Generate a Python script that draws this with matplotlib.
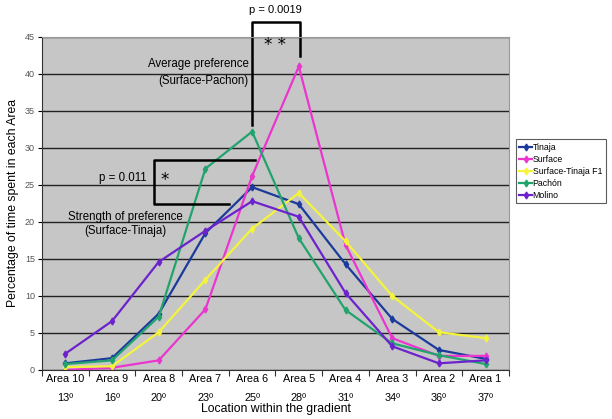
import numpy as np
import matplotlib.pyplot as plt

plt.rcParams['font.family'] = ['Liberation Sans', 'DejaVu Sans']

# data
areas = ['Area 10', 'Area 9', 'Area 8', 'Area 7', 'Area 6',
         'Area 5', 'Area 4', 'Area 3', 'Area 2', 'Area 1']
temps = ['13º', '16º', '20º', '23º', '25º', '28º', '31º', '34º', '36º', '37º']

tinaja = [0.9, 1.6, 7.6, 18.5, 24.7, 22.4, 14.3, 6.9, 2.7, 1.5]
surface = [0.0, 0.3, 1.3, 8.2, 26.2, 41.0, 16.9, 4.3, 1.9, 1.9]
hybrid = [0.4, 0.5, 5.1, 12.2, 19.1, 23.9, 17.4, 10.0, 5.1, 4.3]
pachon = [0.8, 1.3, 7.2, 27.2, 32.2, 17.8, 8.1, 3.6, 2.0, 0.8]
molino = [2.2, 6.6, 14.6, 18.8, 22.8, 20.7, 10.4, 3.2, 0.9, 1.3]

series = [('Tinaja', tinaja, '#1c3a9c'),
          ('Surface', surface, '#ea35cf'),
          ('Surface-Tinaja F1', hybrid, '#f4f43c'),
          ('Pachón', pachon, '#22a36e'),
          ('Molino', molino, '#6c22cc')]

fig = plt.figure(figsize=(6.12, 4.19), dpi=100)
ax = fig.add_axes([0.0686, 0.117, 0.763, 0.795])
ax.set_facecolor('#c6c6c6')

x = np.arange(len(areas))
for name, vals, col in series:
    ax.plot(x, vals, color=col, lw=1.6, marker='d', ms=3.5, label=name)

ax.set_xlim(-0.5, len(areas) - 0.5)
ax.set_ylim(0, 45)
ax.set_yticks(np.arange(0, 46, 5))
ax.yaxis.grid(True, color='#222222', lw=1.0)
ax.set_axisbelow(True)
ax.tick_params(axis='y', labelsize=6.5, labelcolor='#555555', length=3, pad=2)

# Excel style: ticks between categories, labels at centres
ax.set_xticks(np.arange(len(areas) + 1) - 0.5)
ax.set_xticklabels([])
ax.set_xticks(x, minor=True)
ax.set_xticklabels([a + '\n\n' + t for a, t in zip(areas, temps)], minor=True,
                   fontsize=7.8, linespacing=0.92)
ax.tick_params(axis='x', which='minor', length=0, pad=3)
ax.tick_params(axis='x', which='major', length=4, color='#333333')

for s in ['top', 'right']:
    ax.spines[s].set_color('#999999')
ax.spines['left'].set_color('#333333')
ax.spines['bottom'].set_color('#333333')

ax.set_xlabel('Location within the gradient', fontsize=8.8, labelpad=0)
ax.set_ylabel('Percentage of time spent in each Area', fontsize=8.8, labelpad=4)

# significance brackets
k = dict(color='black', lw=1.8, clip_on=False)
star = dict(ha='center', va='center', fontsize=12, family='DejaVu Sans')
ax.plot([4.0, 4.0, 5.02, 5.02], [33.1, 47.0, 47.0, 42.4], **k)
ax.text(4.5, 48.0, 'p = 0.0019', ha='center', va='bottom', fontsize=8)
ax.text(4.5, 43.9, '* *', **star)
ax.text(2.85, 41.3, 'Average preference', ha='center', va='center', fontsize=8.3)
ax.text(2.95, 39.1, '(Surface-Pachon)', ha='center', va='center', fontsize=8.3)

ax.plot([4.06, 1.9, 1.9, 3.5], [28.4, 28.4, 22.4, 22.4], **k)
ax.text(1.23, 26.0, 'p = 0.011', ha='center', va='center', fontsize=8.3)
ax.text(2.13, 25.7, '*', **star)
ax.text(1.28, 20.7, 'Strength of preference', ha='center', va='center', fontsize=8.3)
ax.text(1.28, 18.8, '(Surface-Tinaja)', ha='center', va='center', fontsize=8.3)

leg = ax.legend(loc='upper left', bbox_to_anchor=(0.843, 0.668),
                bbox_transform=fig.transFigure, fontsize=6.3, frameon=True,
                fancybox=False, handlelength=1.4, handletextpad=0.1,
                borderpad=0.4, labelspacing=0.35, borderaxespad=0)
leg.get_frame().set_edgecolor('#333333')
leg.get_frame().set_linewidth(0.8)

fig.savefig('out.png', dpi=100)
